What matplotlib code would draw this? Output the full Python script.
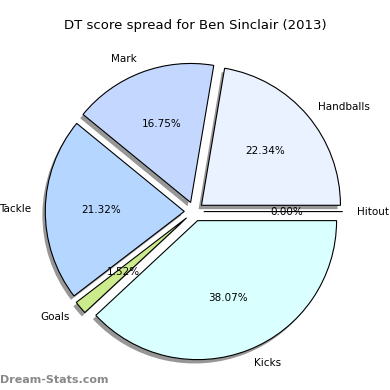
import matplotlib
matplotlib.use("Agg")
import matplotlib.pyplot as plt

labels = ["Handballs", "Mark", "Tackle", "Goals", "Kicks", "Hitout"]
values = [44, 33, 42, 3, 75, 0]
colors = ["#EAF1FF", "#C4D8FF", "#B5D6FF", "#CCEB8C", "#DAFFFF", "#FFFFFF"]
explode = [0.07] * len(values)

fig = plt.figure(figsize=(3.9, 3.9), dpi=100)
ax = fig.add_axes([0.052, 0.012, 0.891, 0.891])
ax.pie(values, labels=labels, colors=colors, explode=explode,
       shadow=dict(ox=-0.015, oy=-0.02, facecolor="#8c8c8c", alpha=0.9, edgecolor="none"),
       autopct="%1.2f%%", startangle=0,
       wedgeprops=dict(edgecolor="black", linewidth=0.8),
       textprops=dict(fontsize=7.5))
ax.set_aspect("equal")
fig.suptitle("DT score spread for Ben Sinclair (2013)", fontsize=9.5, y=0.95)
fig.text(0.0, 0.017, "Dream-Stats.com", color="#888888", fontsize=8, fontweight="bold")
fig.savefig("out.png", dpi=100)
